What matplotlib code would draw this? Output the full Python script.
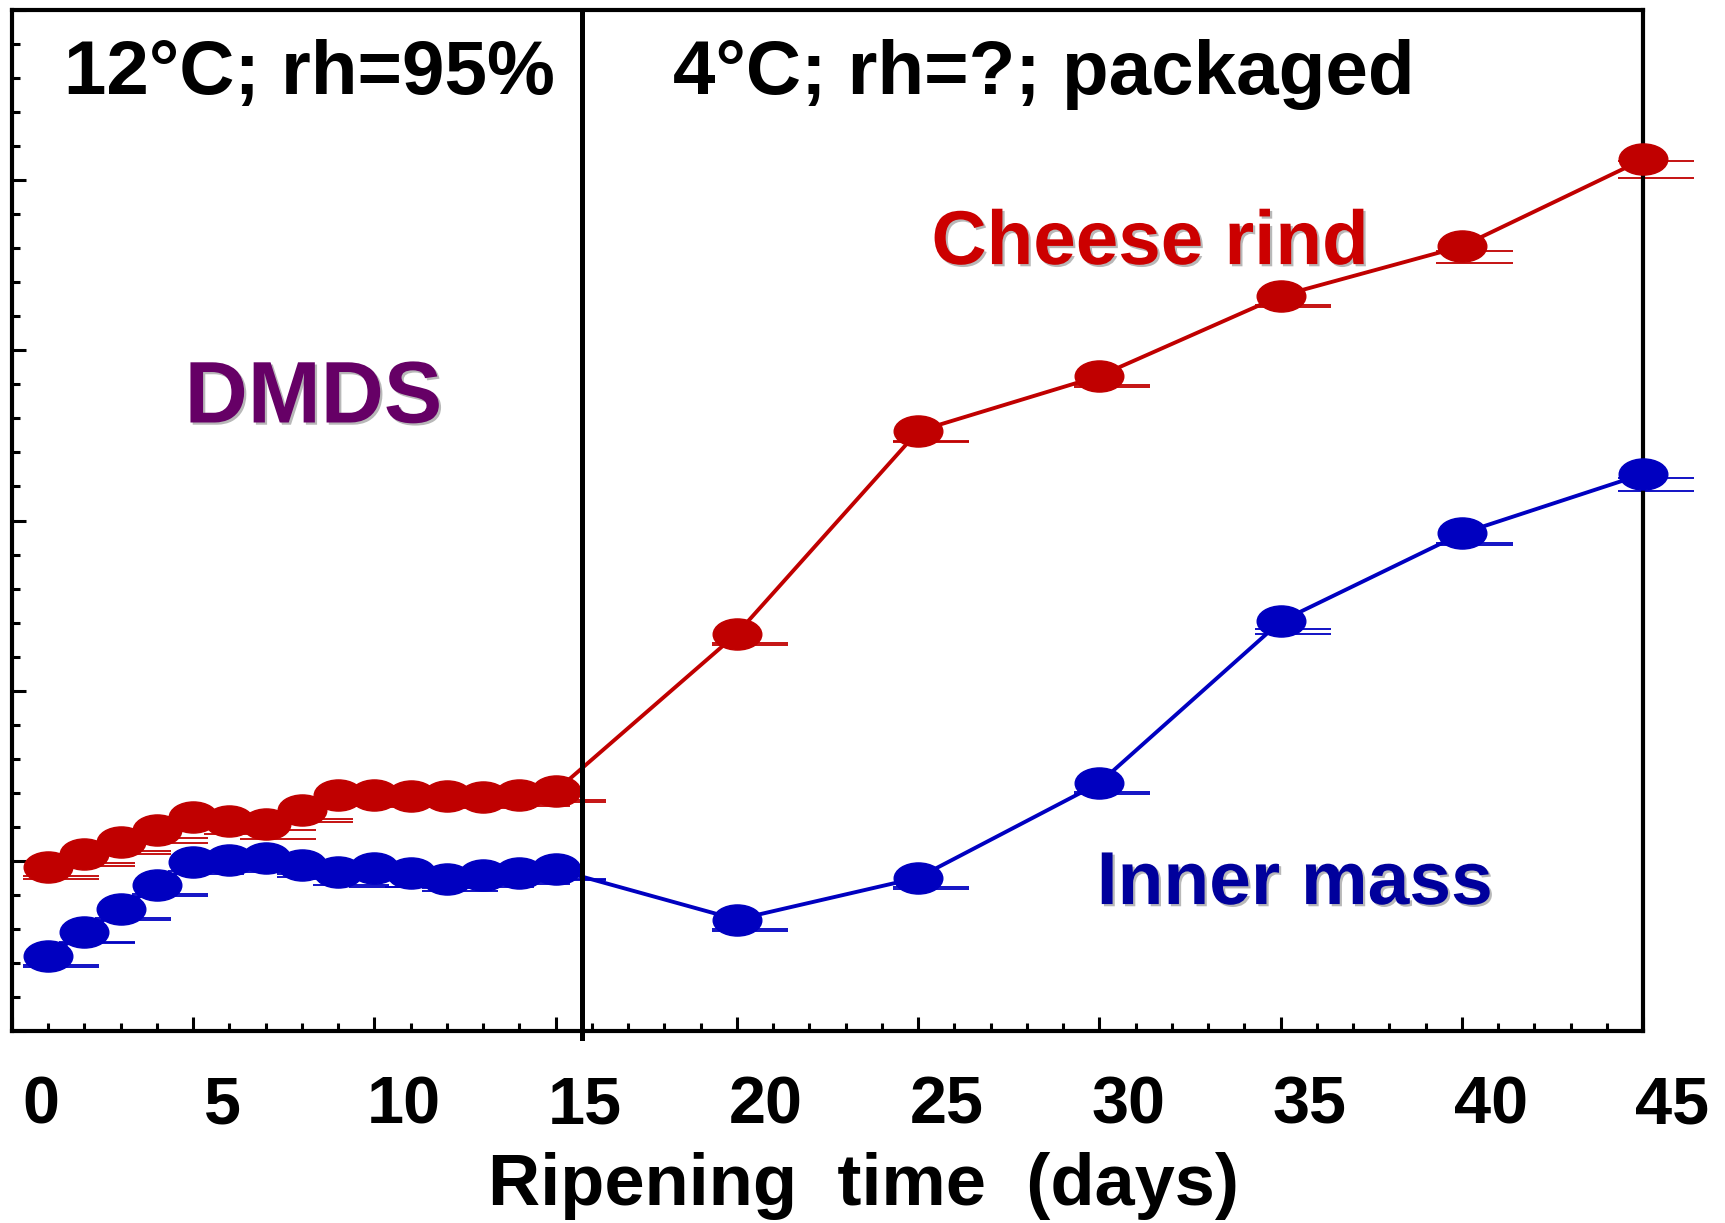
import matplotlib.pyplot as plt
import matplotlib.patheffects as pe
from matplotlib.path import Path
from matplotlib.markers import MarkerStyle
from matplotlib.transforms import ScaledTranslation
import numpy as np

plt.rcParams['font.family'] = ['Liberation Sans', 'DejaVu Sans']
plt.rcParams['font.weight'] = 'bold'

# ripening days (sampling points)
days = [1, 2, 3, 4, 5, 6, 7, 8, 9, 10, 11, 12, 13, 14, 15, 20, 25, 30, 35, 40, 45]

# DMDS level, cheese rind (red) and inner mass (blue)
rind = [0.962, 1.038, 1.109, 1.181, 1.256, 1.236, 1.214, 1.298, 1.387, 1.387,
        1.383, 1.383, 1.377, 1.387, 1.410,
        2.335, 3.525, 3.849, 4.320, 4.611, 5.122]
inner = [0.441, 0.580, 0.717, 0.858, 0.991, 1.005, 1.016, 0.975, 0.936, 0.956,
         0.927, 0.891, 0.917, 0.930, 0.950,
         0.655, 0.901, 1.457, 2.407, 2.924, 3.273]

# spread of the error caps
rind_sd = [0.01, 0.01, 0.01, 0.015, 0.01, 0.02, 0.025, 0.01, 0.005, 0.005,
           0.005, 0.005, 0.005, 0.005, 0.005,
           0.005, 0.005, 0.005, 0.005, 0.035, 0.05]
inner_sd = [0.005, 0.005, 0.005, 0.005, 0.01, 0.01, 0.01, 0.01, 0.02, 0.05,
            0.02, 0.01, 0.01, 0.005, 0.005,
            0.005, 0.005, 0.005, 0.016, 0.005, 0.039]

switch_day = 15.74   # change of storage conditions
xtick_vals = list(range(0, 50, 5))

RED = '#C00000'
BLUE = '#0000C0'

# flattened ellipse marker
circ = Path.unit_circle()
ellipse = MarkerStyle(Path(circ.vertices * np.array([1.0, 0.64]), circ.codes))

fig = plt.figure(figsize=(17.25, 12.23), dpi=100)
ax = fig.add_axes([0.00696, 0.157, 0.9455, 0.8348])

x = np.array(days, dtype=float)
for yv, sd, col in [(rind, rind_sd, RED), (inner, inner_sd, BLUE)]:
    yv = np.array(yv)
    sd = np.array(sd)
    for s in (1, -1):
        ax.hlines(yv - 0.06 + s * sd, x - 0.7, x + 1.4, colors=col, lw=1.3,
                  zorder=2, clip_on=False)
    ax.plot(x, yv, color=col, lw=2.8, zorder=3, clip_on=False)
    ax.plot(x, yv, ls='none', marker=ellipse, ms=35, color=col, mec=col,
            zorder=4, clip_on=False)

ax.plot([switch_day, switch_day], [-0.04, 6], color='black', lw=3.6, zorder=5, clip_on=False)

ax.set_xlim(0, 45)
ax.set_ylim(0, 6)
ax.set_xticks(xtick_vals)
ax.set_xticklabels([str(v) for v in xtick_vals])
ax.set_xticks(np.arange(0, 46, 1), minor=True)
ax.set_yticks(np.arange(0, 7, 1))
ax.set_yticks(np.arange(0, 6.01, 0.2), minor=True)
ax.set_yticklabels([])
ax.tick_params(which='major', direction='in', length=10, width=2.2, labelsize=48, pad=32)
ax.tick_params(which='minor', direction='in', length=6, width=2.2)
shift = ScaledTranslation(0.29, 0, fig.dpi_scale_trans)
for lab in ax.get_xticklabels():
    lab.set_transform(lab.get_transform() + shift)
    lab.set_fontweight('bold')

for sp in ax.spines.values():
    sp.set_linewidth(3)

ax.set_xlabel('Ripening  time  (days)', fontsize=52, fontweight='bold', va='center')
ax.xaxis.set_label_coords(0.522, -0.152)

ax.text(1.43, 5.508, '12°C; rh=95%', fontsize=55, fontweight='bold', ha='left', va='baseline')
ax.text(18.24, 5.508, '4°C; rh=?; packaged', fontsize=55, fontweight='bold', ha='left', va='baseline')

shadow = [pe.SimplePatchShadow(offset=(1.6, -1.6), shadow_rgbFace='#b8b8b8', alpha=1.0), pe.Normal()]
ax.text(31.4, 4.507, 'Cheese rind', fontsize=55, fontweight='bold', color='#CC0000',
        ha='center', va='baseline', path_effects=shadow)
ax.text(35.4, 0.746, 'Inner mass', fontsize=54, fontweight='bold', color='#00009C',
        ha='center', va='baseline', path_effects=shadow)
ax.text(8.32, 3.576, 'DMDS', fontsize=63, fontweight='bold', color='#660066',
        ha='center', va='baseline', path_effects=shadow)

fig.savefig('out.png', dpi=100)
